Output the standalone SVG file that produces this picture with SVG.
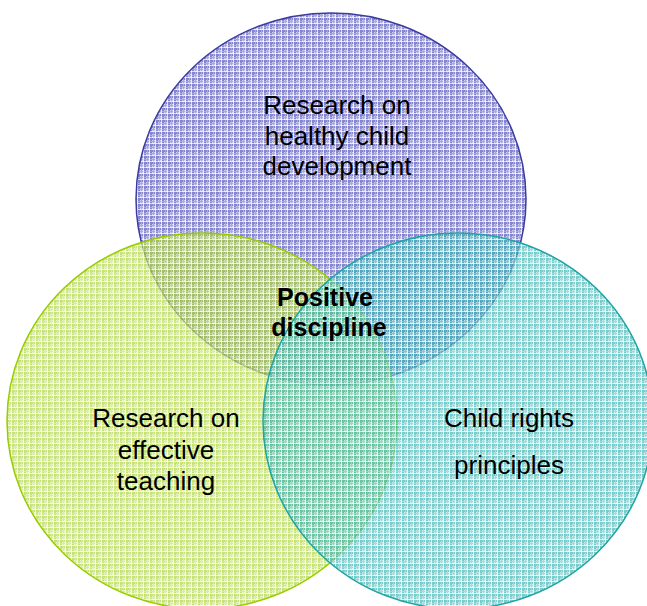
<svg xmlns="http://www.w3.org/2000/svg" width="647" height="606" viewBox="0 0 647 606">
<defs>
<pattern id="pBlue" width="6" height="6" patternUnits="userSpaceOnUse">
<rect width="6" height="6" fill="#c4c4ec"/>
<rect x="0" y="0" width="2" height="6" fill="#7070c8"/>
<rect x="0" y="0" width="6" height="2" fill="#7070c8"/>
<rect x="3" y="0" width="1" height="6" fill="#9a9ad8"/>
<rect x="0" y="3" width="6" height="1" fill="#9a9ad8"/>
<rect x="5" y="0" width="1" height="6" fill="#ffffff" opacity="0.7"/>
<rect x="0" y="5" width="6" height="1" fill="#ffffff" opacity="0.7"/>
</pattern>
<pattern id="pGreen" width="6" height="6" patternUnits="userSpaceOnUse">
<rect width="6" height="6" fill="#e0f2ac"/>
<rect x="0" y="0" width="2" height="6" fill="#b0d640"/>
<rect x="0" y="0" width="6" height="2" fill="#b0d640"/>
<rect x="3" y="0" width="1" height="6" fill="#c8e47a"/>
<rect x="0" y="3" width="6" height="1" fill="#c8e47a"/>
<rect x="5" y="0" width="1" height="6" fill="#ffffff" opacity="0.7"/>
<rect x="0" y="5" width="6" height="1" fill="#ffffff" opacity="0.7"/>
</pattern>
<pattern id="pTeal" width="6" height="6" patternUnits="userSpaceOnUse">
<rect width="6" height="6" fill="#b4e4e4"/>
<rect x="0" y="0" width="2" height="6" fill="#40b6b6"/>
<rect x="0" y="0" width="6" height="2" fill="#40b6b6"/>
<rect x="3" y="0" width="1" height="6" fill="#7ccccc"/>
<rect x="0" y="3" width="6" height="1" fill="#7ccccc"/>
<rect x="5" y="0" width="1" height="6" fill="#ffffff" opacity="0.7"/>
<rect x="0" y="5" width="6" height="1" fill="#ffffff" opacity="0.7"/>
</pattern>
</defs>
<style>
.c{stroke-width:1.5}
.t{font-family:"Liberation Sans",Arial,sans-serif;font-size:26px;fill:#000;text-anchor:middle}
.b{font-family:"Liberation Sans",Arial,sans-serif;font-size:25px;font-weight:bold;fill:#000;text-anchor:middle}
</style>
<g id="node-top">
<ellipse class="c" cx="331" cy="199" rx="195" ry="186" fill="url(#pBlue)" fill-opacity="0.85" stroke="#3c3ca0"/>
</g>
<g id="node-left">
<ellipse class="c" cx="202" cy="421" rx="195" ry="188" fill="url(#pGreen)" fill-opacity="0.7" stroke="#99cc00"/>
</g>
<g id="node-right">
<ellipse class="c" cx="458" cy="421" rx="195" ry="188" fill="url(#pTeal)" fill-opacity="0.7" stroke="#1fa3a3"/>
</g>
<g id="connectors"></g>
<g id="labels">
<text class="t" x="337" y="114">Research on</text>
<text class="t" x="337" y="145">healthy child</text>
<text class="t" x="337" y="175">development</text>
<text class="b" x="325" y="306">Positive</text>
<text class="b" x="329" y="336">discipline</text>
<text class="t" x="166" y="427">Research on</text>
<text class="t" x="166" y="459">effective</text>
<text class="t" x="166" y="490">teaching</text>
<text class="t" x="509" y="427">Child rights</text>
<text class="t" x="509" y="474">principles</text>
</g>
</svg>
